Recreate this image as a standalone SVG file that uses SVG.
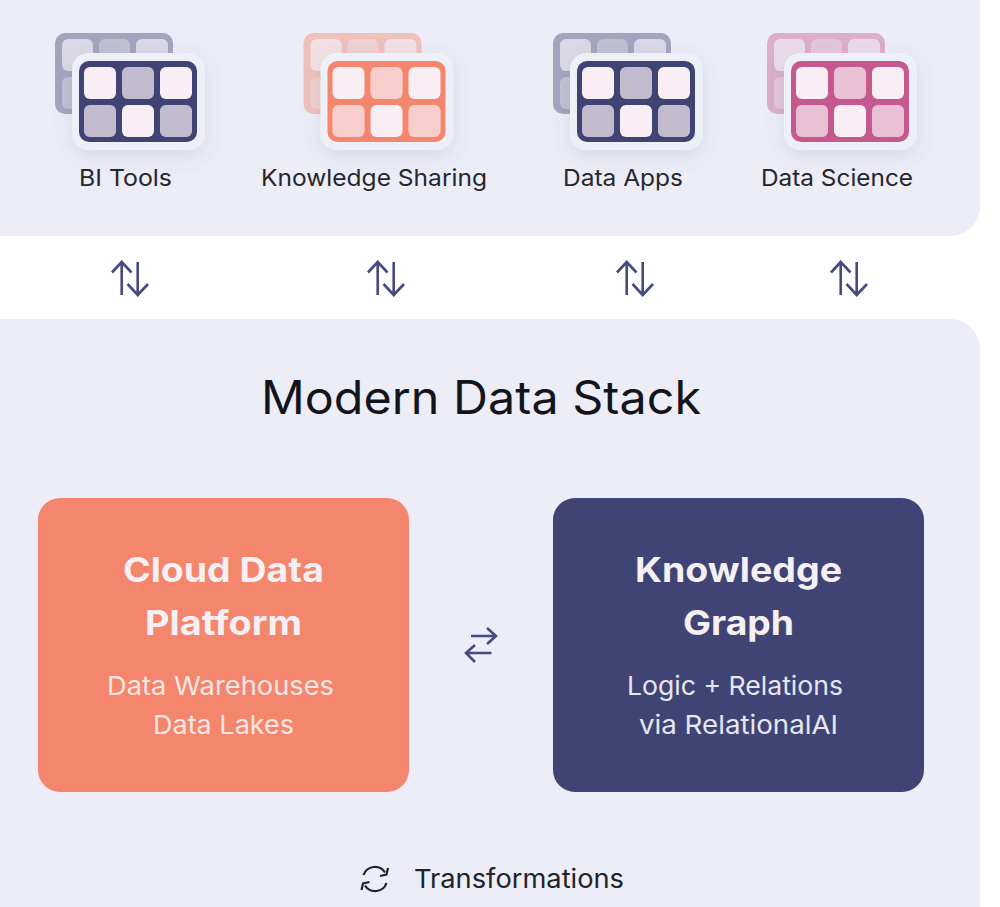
<svg xmlns="http://www.w3.org/2000/svg" width="1000" height="907" viewBox="0 0 1000 907">
<style>
text{font-family:"Inter","Liberation Sans",sans-serif;}
.lbl{font-size:23px;fill:#26262e;text-anchor:middle;}
.title{font-size:46px;fill:#14141c;text-anchor:middle;}
.h{font-size:34px;font-weight:700;fill:#f6f0f4;text-anchor:middle;}
.s{font-size:26px;fill:#f8e6e4;text-anchor:middle;}
.s2{font-size:26px;fill:#e6e6f2;text-anchor:middle;}
.ar{fill:none;stroke:#454b80;stroke-width:2.6;}
.lt{fill:#f9eef4;}
.dmo{fill:currentColor;opacity:.3;}
.bc{fill:#f9eef4;opacity:.72;}
.bd{fill:#f9eef4;opacity:.38;}
</style>
<defs>
<filter id="sh" x="-30%" y="-30%" width="160%" height="170%"><feDropShadow dx="0" dy="6" stdDeviation="10" flood-color="#5a5f8a" flood-opacity=".15"/></filter>
<g id="cells">
<rect class="lt" x="84" y="67" width="32" height="32" rx="6"/><rect class="lt" x="122" y="67" width="32" height="32" rx="6"/><rect class="lt" x="160" y="67" width="32" height="32" rx="6"/>
<rect class="lt" x="84" y="105" width="32" height="32" rx="6"/><rect class="lt" x="122" y="105" width="32" height="32" rx="6"/><rect class="lt" x="160" y="105" width="32" height="32" rx="6"/>
<rect class="dmo" x="122" y="67" width="32" height="32" rx="6"/><rect class="dmo" x="84" y="105" width="32" height="32" rx="6"/><rect class="dmo" x="160" y="105" width="32" height="32" rx="6"/>
</g>
<g id="icon">
<g opacity=".42">
<rect x="55" y="33" width="118" height="81" rx="10" fill="currentColor"/>
<rect class="bc" x="62" y="39" width="31" height="32" rx="6"/><rect class="bd" x="99" y="39" width="31" height="32" rx="6"/><rect class="bc" x="136" y="39" width="32" height="32" rx="6"/>
<rect class="bd" x="62" y="77" width="31" height="32" rx="6"/>
</g>
<rect x="72" y="53" width="133" height="97" rx="16" fill="#eef0f8" filter="url(#sh)"/>
<rect x="79" y="61" width="118" height="81" rx="10" fill="currentColor"/>
<use href="#cells"/>
</g>
<g id="ud"><path class="ar" d="M121.700 295V262M112 272.500L121.700 262L131.500 272.500"/><path class="ar" d="M137.700 262V294.500M127.500 284L137.700 295L148 284"/></g>
</defs>
<g id="top-panel"><rect x="-40" y="-40" width="1020" height="276" rx="30" fill="#ecedf6"/></g>
<g id="bottom-panel"><rect x="-40" y="319" width="1020" height="640" rx="30" fill="#ecedf6"/></g>
<g id="bi-tools" style="color:#3f4474"><use href="#icon"/><text class="lbl" x="125.500" y="186" textLength="93" lengthAdjust="spacingAndGlyphs">BI Tools</text></g>
<g id="knowledge-sharing" style="color:#f3866c"><use href="#icon" x="248.500"/><text class="lbl" x="374" y="186" textLength="226" lengthAdjust="spacingAndGlyphs">Knowledge Sharing</text></g>
<g id="data-apps" style="color:#3f4474"><use href="#icon" x="498"/><text class="lbl" x="623" y="186" textLength="120" lengthAdjust="spacingAndGlyphs">Data Apps</text></g>
<g id="data-science" style="color:#c4588f"><use href="#icon" x="712"/><text class="lbl" x="837" y="186" textLength="152" lengthAdjust="spacingAndGlyphs">Data Science</text></g>
<g id="connectors">
<use href="#ud"/><use href="#ud" x="256"/><use href="#ud" x="505"/><use href="#ud" x="719"/>
<path class="ar" d="M471 636H495M487 628L496 636L487 644M491.500 653H467M475 645L466 653L475 662"/>
</g>
<g id="modern-data-stack"><text class="title" x="481" y="414" textLength="440" lengthAdjust="spacingAndGlyphs">Modern Data Stack</text></g>
<g id="cloud-data-platform">
<rect x="38" y="498" width="371" height="294" rx="22" fill="#f3866c"/>
<text class="h" x="223.500" y="582" textLength="201" lengthAdjust="spacingAndGlyphs">Cloud Data</text><text class="h" x="223.500" y="635" textLength="157" lengthAdjust="spacingAndGlyphs">Platform</text>
<text class="s" x="220.500" y="695" textLength="227" lengthAdjust="spacingAndGlyphs">Data Warehouses</text><text class="s" x="223.500" y="734" textLength="141" lengthAdjust="spacingAndGlyphs">Data Lakes</text>
</g>
<g id="knowledge-graph">
<rect x="553" y="498" width="371" height="294" rx="22" fill="#3f4474"/>
<text class="h" x="738.500" y="582" textLength="207" lengthAdjust="spacingAndGlyphs">Knowledge</text><text class="h" x="738.500" y="635" textLength="111" lengthAdjust="spacingAndGlyphs">Graph</text>
<text class="s2" x="735" y="695" textLength="216" lengthAdjust="spacingAndGlyphs">Logic + Relations</text><text class="s2" x="738.500" y="734" textLength="199" lengthAdjust="spacingAndGlyphs">via RelationalAI</text>
</g>
<g id="transformations">
<path d="M363.500 875A12 12 0 0 1 385 872.500M386.500 883A12 12 0 0 1 365 885.500" fill="none" stroke="#22222a" stroke-width="2.200"/>
<path d="M380 876L386.500 874.500L388 868M369.500 882L363 883.500L361.500 890" fill="none" stroke="#22222a" stroke-width="2.200"/>
<text x="414" y="888" font-size="26" fill="#22222a" textLength="210" lengthAdjust="spacingAndGlyphs">Transformations</text>
</g>
</svg>
